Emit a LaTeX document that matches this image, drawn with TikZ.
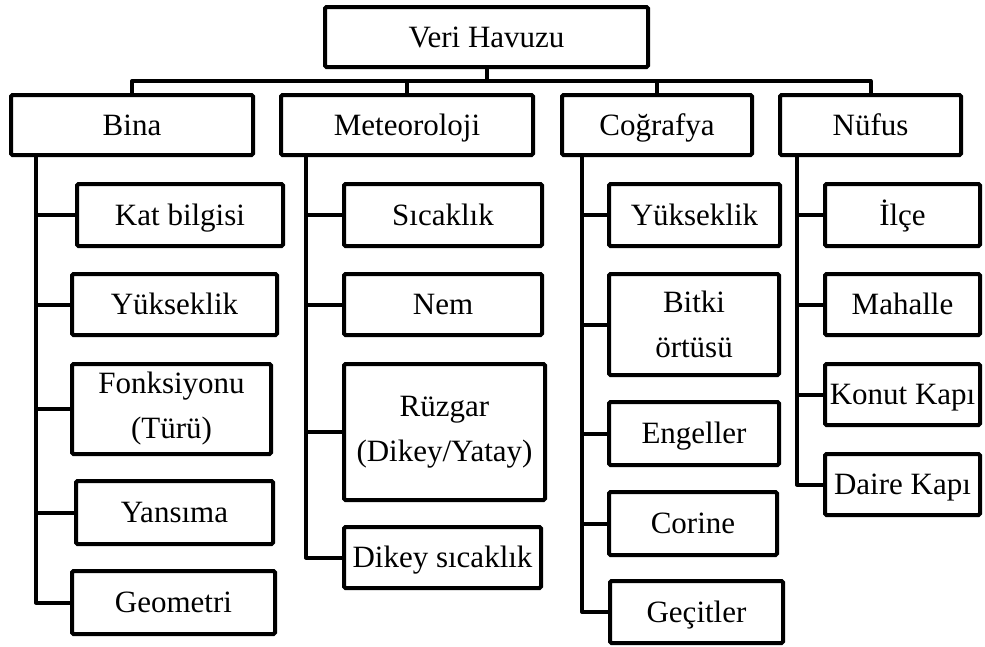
\documentclass[tikz,border=0pt]{standalone}
\usepackage{fontspec}
\setmainfont{Liberation Serif}
\begin{document}
\begin{tikzpicture}[x=1pt,y=-1pt,
  box/.style={draw=black,line width=4pt,rounded corners=1.5pt,fill=white,
    align=center,inner sep=0pt,font=\fontsize{31}{45}\selectfont},
  one/.style={box,text height=27pt,text depth=7pt},
  link/.style={draw=black,line width=4pt,line join=round,line cap=rect}]
\useasboundingbox (0,0) rectangle (985,646);

% root and the four categories
\node[one,minimum width=323pt,minimum height=60pt] (root) at (486.5,37) {Veri Havuzu};
\node[one,minimum width=242pt,minimum height=60pt] (bina) at (132,125) {Bina};
\node[one,minimum width=252pt,minimum height=60pt] (meteo) at (407,125) {Meteoroloji};
\node[one,minimum width=190pt,minimum height=60pt] (cog) at (657,125) {Coğrafya};
\node[one,minimum width=181pt,minimum height=60pt] (nuf) at (870.5,125) {Nüfus};

% Bina
\node[one,minimum width=206pt,minimum height=62pt] (kat) at (180,215) {Kat bilgisi};
\node[one,minimum width=205pt,minimum height=61pt] (yuka) at (174.5,304.5) {Yükseklik};
\node[box,minimum width=199pt,minimum height=90pt] (fonk) at (171.5,409) {Fonksiyonu\\(Türü)};
\node[one,minimum width=197pt,minimum height=63pt] (yans) at (174.5,512.5) {Yansıma};
\node[one,minimum width=203pt,minimum height=63pt] (geo) at (173.5,602.5) {Geometri};

% Meteoroloji
\node[one,minimum width=198pt,minimum height=62pt] (sic) at (443,215) {Sıcaklık};
\node[one,minimum width=198pt,minimum height=61pt] (nem) at (443,304.5) {Nem};
\node[box,minimum width=201pt,minimum height=136pt] (ruz) at (444.5,432) {Rüzgar\\(Dikey/Yatay)};
\node[one,minimum width=197pt,minimum height=61pt] (dik) at (442.5,557.5) {Dikey sıcaklık};

% Coğrafya
\node[one,minimum width=171pt,minimum height=62pt] (yukb) at (694.5,215) {Yükseklik};
\node[box,minimum width=170pt,minimum height=101pt] (bitki) at (694,324.5) {Bitki\\örtüsü};
\node[one,minimum width=170pt,minimum height=63pt] (eng) at (694,433.5) {Engeller};
\node[one,minimum width=168pt,minimum height=63pt] (cor) at (693,523.5) {Corine};
\node[one,minimum width=173pt,minimum height=62pt] (gec) at (696.5,612) {Geçitler};

% Nüfus
\node[one,minimum width=155pt,minimum height=62pt] (ilce) at (902.5,215) {İlçe};
\node[one,minimum width=155pt,minimum height=61pt] (mah) at (902.5,304.5) {Mahalle};
\node[one,minimum width=155pt,minimum height=61pt] (konut) at (902.5,394.5) {Konut Kapı};
\node[one,minimum width=155pt,minimum height=61pt] (daire) at (902.5,484.5) {Daire Kapı};

% bus under the root
\coordinate (bus) at (0,81);
\draw[link] (root.south) -- (root.south |- bus);
\draw[link] (bina.north) -- (bina.north |- bus) -- (nuf.north |- bus) -- (nuf.north);
\draw[link] (meteo.north) -- (meteo.north |- bus);
\draw[link] (cog.north) -- (cog.north |- bus);

% spines
\coordinate (sb) at (36,0);
\coordinate (sm) at (306,0);
\coordinate (sc) at (582,0);
\coordinate (sn) at (797,0);

\draw[link] (sb |- bina.south) |- (geo.west);
\foreach \c in {kat,yuka,fonk,yans} \draw[link] (sb |- \c.west) -- (\c.west);

\draw[link] (sm |- meteo.south) |- (dik.west);
\foreach \c in {sic,nem,ruz} \draw[link] (sm |- \c.west) -- (\c.west);

\draw[link] (sc |- cog.south) |- (gec.west);
\foreach \c in {yukb,bitki,eng,cor} \draw[link] (sc |- \c.west) -- (\c.west);

\draw[link] (sn |- nuf.south) |- (daire.west);
\foreach \c in {ilce,mah,konut} \draw[link] (sn |- \c.west) -- (\c.west);
\end{tikzpicture}
\end{document}
